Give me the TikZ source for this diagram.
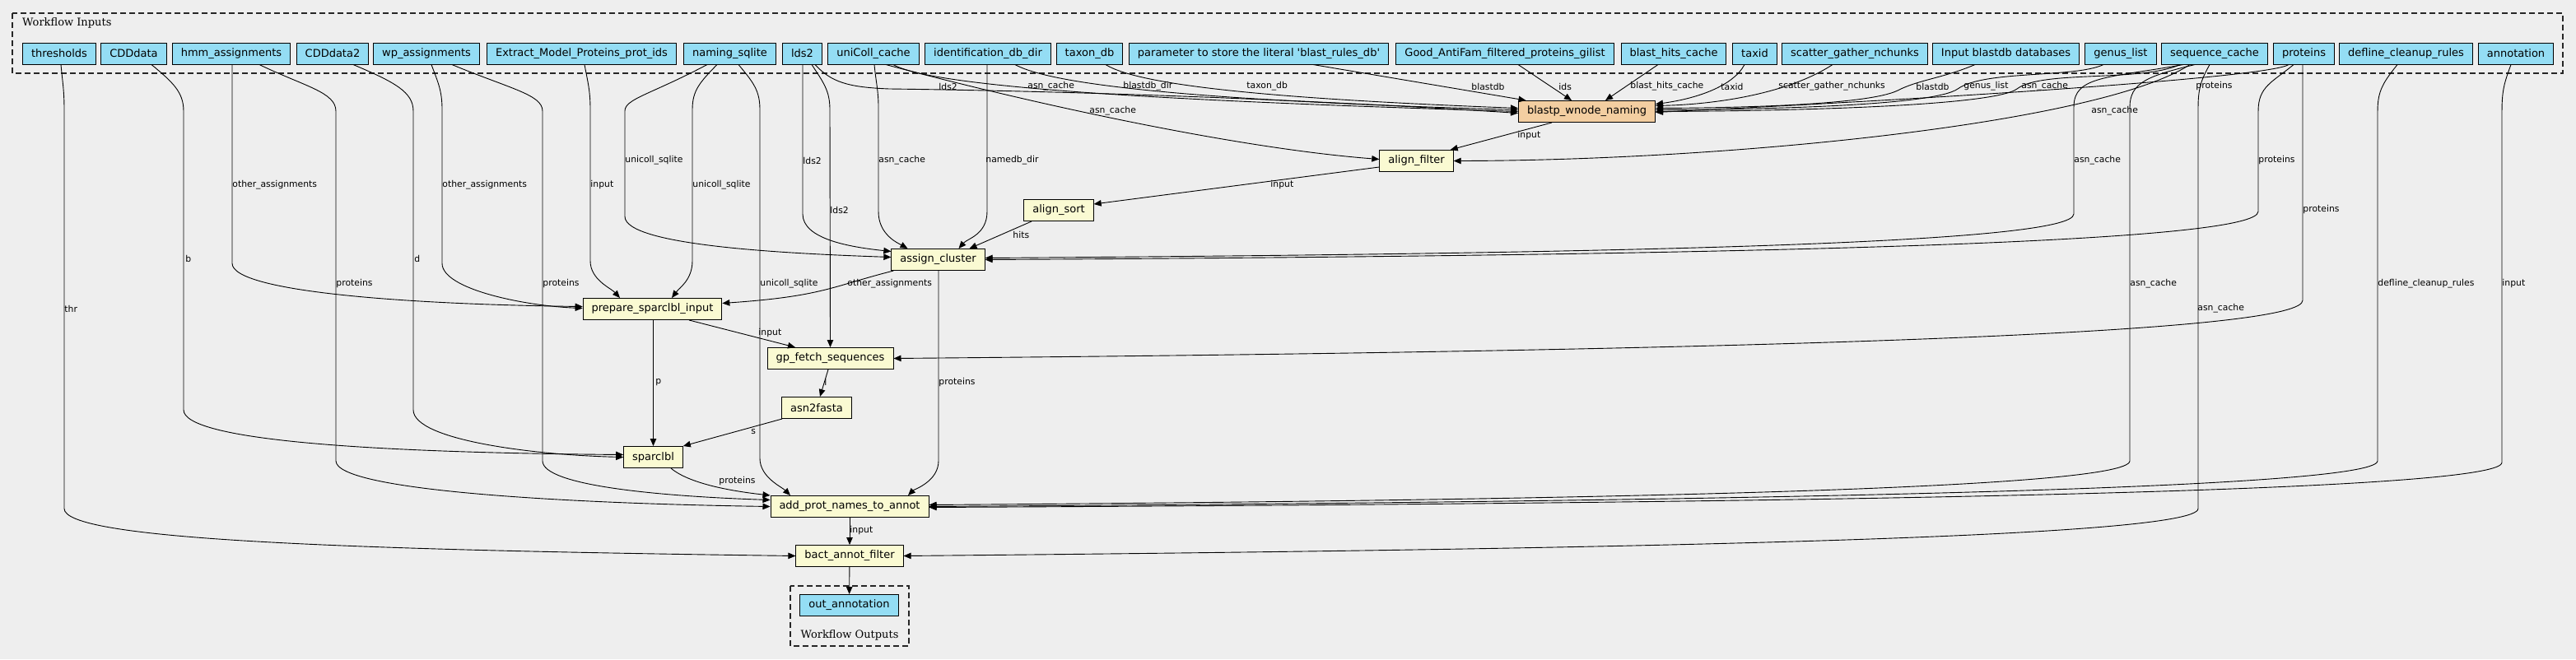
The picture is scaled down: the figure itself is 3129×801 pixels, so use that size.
\documentclass[tikz,border=0pt]{standalone}
\usepackage{fontspec}
\setmainfont{DejaVu Sans}
\newfontfamily\clusterfont{DejaVu Serif}
\usetikzlibrary{arrows.meta}
\definecolor{bgcol}{HTML}{EEEEEE}
\definecolor{incol}{HTML}{94DDF4}
\definecolor{stepcol}{HTML}{FAFAD2}
\definecolor{subcol}{HTML}{F3CEA1}
\begin{document}
\begin{tikzpicture}[x=1pt, y=-1pt,
    >={Triangle[length=9pt,width=7.5pt]},
    inp/.style={draw=black, line width=1pt, fill=incol, inner xsep=10.5pt, inner ysep=2pt,
      minimum height=26pt, font=\fontsize{13}{15}\selectfont},
    stp/.style={inp, fill=stepcol},
    sub/.style={inp, fill=subcol},
    lbl/.style={anchor=west, inner sep=0pt, font=\fontsize{10.8}{12}\selectfont},
    flow/.style={->, line width=0.9pt},
    cluster/.style={draw=black!85, dash pattern=on 7pt off 4pt, line width=1.2pt},
    ctitle/.style={inner sep=0pt, font=\clusterfont\fontsize{13}{15}\selectfont}]
  \useasboundingbox (0,0) rectangle (3129,801);
  \fill[bgcol] (0,0) rectangle (3129,801);

  % clusters
  \draw[cluster] (15,16) rectangle (3113,89);
  \node[ctitle, anchor=west] (intitle) at (27,28) {Workflow Inputs};
  \draw[cluster] (960,712) rectangle (1104,785);
  \node[ctitle] (outtitle) at (1032,772) {Workflow Outputs};

  % workflow inputs
  \path (72,65) node[inp] (thr) {thresholds}
    (162.5,65) node[inp] (cdd) {CDDdata}
    (281,65) node[inp] (hmm) {hmm\_assignments}
    (404,65) node[inp] (cdd2) {CDDdata2}
    (518,65) node[inp] (wp) {wp\_assignments}
    (706.5,65) node[inp] (extract) {Extract\_Model\_Proteins\_prot\_ids}
    (886.5,65) node[inp] (naming) {naming\_sqlite}
    (974.5,65) node[inp] (lds) {lds2}
    (1061,65) node[inp] (unicoll) {uniColl\_cache}
    (1200,65) node[inp] (iddb) {identification\_db\_dir}
    (1323.5,65) node[inp] (taxondb) {taxon\_db}
    (1529,65) node[inp] (param) {parameter to store the literal \textquotesingle blast\_rules\_db\textquotesingle}
    (1828,65) node[inp] (goodaf) {Good\_AntiFam\_filtered\_proteins\_gilist}
    (2033,65) node[inp] (bhc) {blast\_hits\_cache}
    (2131.5,65) node[inp] (taxid) {taxid}
    (2253,65) node[inp] (sgn) {scatter\_gather\_nchunks}
    (2436.5,65) node[inp] (ibdb) {Input blastdb databases}
    (2576,65) node[inp] (genus) {genus\_list}
    (2690,65) node[inp] (seqc) {sequence\_cache}
    (2798.5,65) node[inp] (prot) {proteins}
    (2922.5,65) node[inp] (defl) {defline\_cleanup\_rules}
    (3056,65) node[inp] (annot) {annotation};

  % steps
  \path (1927.5,135.5) node[sub] (blastp) {blastp\_wnode\_naming}
    (1720.5,195.5) node[stp] (afilter) {align\_filter}
    (1286,255.5) node[stp] (asort) {align\_sort}
    (1139.5,315.5) node[stp] (assign) {assign\_cluster}
    (792.5,375.5) node[stp] (prep) {prepare\_sparclbl\_input}
    (1008.5,435.5) node[stp] (gpfetch) {gp\_fetch\_sequences}
    (992,495.5) node[stp] (asnfa) {asn2fasta}
    (793.5,555.5) node[stp] (sparc) {sparclbl}
    (1032,615.5) node[stp] (addprot) {add\_prot\_names\_to\_annot}
    (1032,675.5) node[stp] (bact) {bact\_annot\_filter}
    (1031.5,735.5) node[inp] (out) {out\_annotation};

  % left inputs
  \draw[flow] ([xshift=2pt]thr.south) .. controls (76,100) and (78,110) .. (78,133) -- (78,618)
    node[lbl] at (78,375) {thr}
    .. controls (78,655) and (400,668) .. (bact.west);
  \draw[flow] ([xshift=21.5pt]cdd.south) .. controls (210,100) and (223,112) .. (223,135) -- (223,498)
    node[lbl] at (225,314) {b}
    .. controls (223,535) and (450,550) .. ([yshift=3pt]sparc.west);
  \draw[flow] ([xshift=1pt]hmm.south) -- (282,320)
    node[lbl] at (282,225) {other\_assignments}
    .. controls (282,355) and (500,370) .. ([yshift=3pt]prep.west);
  \draw[flow] ([xshift=34pt]hmm.south) .. controls (370,105) and (408,112) .. (408,135) -- (408,560)
    node[lbl] at (408,345) {proteins}
    .. controls (408,597) and (700,612) .. (addprot.west);
  \draw[flow] ([xshift=25pt]cdd2.south) .. controls (480,100) and (502,112) .. (502,135) -- (502,498)
    node[lbl] at (503,314) {d}
    .. controls (502,535) and (650,553) .. (sparc.west);
  \draw[flow] ([xshift=6pt]wp.south) .. controls (532,100) and (537,110) .. (537,133) -- (537,320)
    node[lbl] at (537,225) {other\_assignments}
    .. controls (537,352) and (640,372) .. ([yshift=1pt]prep.west);
  \draw[flow] ([xshift=31pt]wp.south) .. controls (620,108) and (659,115) .. (659,135) -- (659,560)
    node[lbl] at (659,345) {proteins}
    .. controls (659,590) and (800,603) .. ([yshift=8pt]addprot.west);
  \draw[flow] ([xshift=3.5pt]extract.south) .. controls (714,100) and (717,110) .. (717,133) -- (717,317)
    node[lbl] at (717,225) {input}
    .. controls (717,340) and (742,350) .. ([xshift=-39.5pt]prep.north);
  \draw[flow] ([xshift=-27.5pt]naming.south) .. controls (790,115) and (759,120) .. (759,135) -- (759,263)
    node[lbl] at (759,195) {unicoll\_sqlite}
    .. controls (759,298) and (950,308) .. ([yshift=3pt]assign.west);
  \draw[flow] ([xshift=-15.5pt]naming.south) .. controls (850,100) and (841,110) .. (841,133) -- (841,317)
    node[lbl] at (841,225) {unicoll\_sqlite}
    .. controls (841,340) and (825,350) .. ([xshift=23.5pt]prep.north);
  \draw[flow] ([xshift=10.5pt]naming.south) .. controls (915,100) and (923,110) .. (923,133) -- (923,557)
    node[lbl] at (923,345) {unicoll\_sqlite}
    .. controls (923,580) and (950,592) .. ([xshift=-72pt]addprot.north);
  \draw[flow] ([xshift=0.5pt]lds.south) -- (975,260)
    node[lbl] at (975,195) {lds2}
    .. controls (975,290) and (1030,300) .. ([yshift=10pt]assign.west);
  \draw[flow] ([xshift=11.5pt]lds.south) .. controls (1000,100) and (1008,110) .. (1008,133)
    node[lbl] at (1008,255) {lds2}
    -- (gpfetch.north);
  \draw[flow] ([xshift=15.5pt]lds.south) .. controls (1010,100) and (1030,106) .. (1080,108)
    node[lbl] at (1140,105) {lds2}
    .. controls (1400,112) and (1700,128) .. ([yshift=-2pt]blastp.west);
  \draw[flow] ([xshift=1pt]unicoll.south) .. controls (1064,100) and (1067,110) .. (1067,130) -- (1067,257)
    node[lbl] at (1067,195) {asn\_cache}
    .. controls (1067,285) and (1090,295) .. ([xshift=-37pt]assign.north);
  \draw[flow] ([xshift=15pt]unicoll.south) .. controls (1250,125) and (1500,180) .. ([yshift=2pt]afilter.west)
    node[lbl] at (1323,135) {asn\_cache};
  \draw[flow] ([xshift=24pt]unicoll.south) .. controls (1140,110) and (1500,125) .. (blastp.west)
    node[lbl] at (1248,105) {asn\_cache};
  \draw[flow] ([xshift=-1pt]iddb.south) -- (1199,257)
    node[lbl] at (1197,195) {namedb\_dir}
    .. controls (1199,285) and (1175,290) .. ([xshift=25pt]assign.north);
  \draw[flow] ([xshift=33pt]iddb.south) .. controls (1290,110) and (1550,125) .. ([yshift=2pt]blastp.west)
    node[lbl] at (1364,105) {blastdb\_dir};
  \draw[flow] ([xshift=19.5pt]taxondb.south) .. controls (1390,108) and (1600,122) .. ([yshift=4pt]blastp.west)
    node[lbl] at (1514,105) {taxon\_db};
  \draw[flow] ([xshift=66pt]param.south) -- ([xshift=-74pt]blastp.north)
    node[lbl] at (1787,105) {blastdb};
  \draw[flow] ([xshift=16pt]goodaf.south) -- ([xshift=-18.5pt]blastp.north)
    node[lbl] at (1893,105) {ids};
  \draw[flow] ([xshift=-19pt]bhc.south) -- ([xshift=22.5pt]blastp.north)
    node[lbl] at (1980,105) {blast\_hits\_cache};

  % right inputs
  \draw[flow] ([xshift=-12.5pt]taxid.south) .. controls (2105,105) and (2060,120) .. ([yshift=9pt]blastp.east)
    node[lbl] at (2090,105) {taxid};
  \draw[flow] ([xshift=-27pt]sgn.south) .. controls (2170,115) and (2080,127) .. ([yshift=7pt]blastp.east)
    node[lbl] at (2160,105) {scatter\_gather\_nchunks};
  \draw[flow] ([xshift=-37.5pt]ibdb.south) .. controls (2360,95) and (2330,97) .. (2305,110)
    .. controls (2270,127) and (2120,131) .. ([yshift=4pt]blastp.east)
    node[lbl] at (2327,105) {blastdb};
  \draw[flow] ([xshift=-21pt]genus.south) .. controls (2520,95) and (2410,85) .. (2378,108)
    .. controls (2350,128) and (2150,133) .. ([yshift=2pt]blastp.east)
    node[lbl] at (2385,105) {genus\_list};
  \draw[flow] ([xshift=-42pt]seqc.south) .. controls (2600,100) and (2480,85) .. (2450,108)
    .. controls (2420,130) and (2150,135) .. (blastp.east)
    node[lbl] at (2455,105) {asn\_cache};
  \draw[flow] ([xshift=-18.5pt]prot.south) .. controls (2760,92) and (2450,115) .. ([yshift=-1pt]blastp.east)
    node[lbl] at (2667,105) {proteins};
  \draw[flow] ([xshift=-30pt]seqc.south) .. controls (2550,150) and (2100,195) .. (afilter.east)
    node[lbl] at (2540,135) {asn\_cache};
  \draw[flow] ([xshift=-38pt]seqc.south) .. controls (2560,95) and (2519,92) .. (2519,130) -- (2519,260)
    node[lbl] at (2519,195) {asn\_cache}
    .. controls (2519,295) and (2000,308) .. ([yshift=2pt]assign.east);
  \draw[flow] ([xshift=-12.5pt]prot.south) .. controls (2760,100) and (2743,105) .. (2743,135) -- (2743,257)
    node[lbl] at (2743,195) {proteins}
    .. controls (2743,293) and (2200,310) .. (assign.east);
  \draw[flow] ([xshift=-1.5pt]prot.south) -- (2797,365)
    node[lbl] at (2797,255) {proteins}
    .. controls (2797,400) and (2300,425) .. (gpfetch.east);
  \draw[flow] ([xshift=-24pt]seqc.south) .. controls (2610,92) and (2587,100) .. (2587,130) -- (2587,560)
    node[lbl] at (2587,345) {asn\_cache}
    .. controls (2587,595) and (1900,608) .. ([yshift=2pt]addprot.east);
  \draw[flow] ([xshift=-6pt]seqc.south) .. controls (2675,95) and (2670,105) .. (2670,130) -- (2670,618)
    node[lbl] at (2669,375) {asn\_cache}
    .. controls (2670,655) and (1900,668) .. (bact.east);
  \draw[flow] ([xshift=-10.5pt]defl.south) .. controls (2895,100) and (2888,110) .. (2888,135) -- (2888,560)
    node[lbl] at (2888,345) {defline\_cleanup\_rules}
    .. controls (2888,597) and (2000,610) .. (addprot.east);
  \draw[flow] ([xshift=-6pt]annot.south) .. controls (3042,100) and (3039,110) .. (3039,135) -- (3039,562)
    node[lbl] at (3039,345) {input}
    .. controls (3039,600) and (2100,612) .. ([yshift=-1pt]addprot.east);

  % step to step
  \draw[flow] ([xshift=-42.5pt]blastp.south) -- ([xshift=-4pt]afilter.north east)
    node[lbl] at (1843,165) {input};
  \draw[flow] ([yshift=-7.5pt]afilter.west) -- ([yshift=7.5pt]asort.east)
    node[lbl] at (1543,225) {input};
  \draw[flow] ([xshift=-33pt]asort.south) -- ([xshift=38pt]assign.north)
    node[lbl] at (1230,285) {hits};
  \draw[flow] ([xshift=3pt]assign.south west) .. controls (1010,348) and (1000,360) .. ([yshift=7pt]prep.east)
    node[lbl] at (1029,345) {other\_assignments};
  \draw[flow] ([xshift=0.5pt]assign.south) -- (1140,560)
    node[lbl] at (1140,465) {proteins}
    .. controls (1140,585) and (1110,595) .. ([xshift=71pt]addprot.north);
  \draw[flow] ([xshift=44.5pt]prep.south) -- ([xshift=-42.5pt]gpfetch.north)
    node[lbl] at (921,405) {input};
  \draw[flow] ([xshift=1pt]prep.south) -- (sparc.north)
    node[lbl] at (796,465) {p};
  \draw[flow] ([xshift=-2.5pt]gpfetch.south) -- ([xshift=4pt]asnfa.north)
    node[lbl] at (1001,464) {l};
  \draw[flow] ([xshift=-42pt]asnfa.south) -- (sparc.north east)
    node[lbl] at (912,525) {s};
  \draw[flow] ([xshift=21.5pt]sparc.south) .. controls (840,590) and (900,598) .. (addprot.north west)
    node[lbl] at (873,585) {proteins};
  \draw[flow] (addprot) -- (bact)
    node[lbl] at (1032,645) {input};
  \draw[flow] (bact) -- (out);
\end{tikzpicture}
\end{document}
